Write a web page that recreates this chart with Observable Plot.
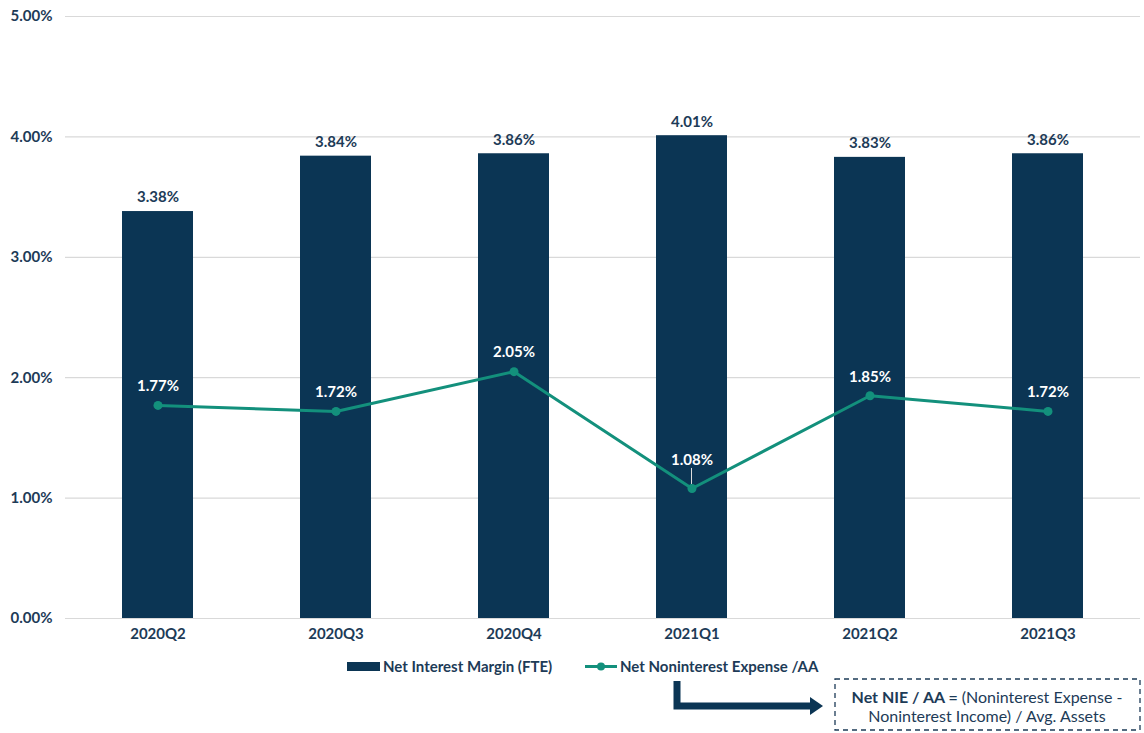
<!DOCTYPE html>
<html><head><meta charset="utf-8">
<script src="https://cdn.jsdelivr.net/npm/d3@7"></script>
<script src="https://cdn.jsdelivr.net/npm/@observablehq/plot@0.6"></script>
<style>
body{margin:0;background:#fff;font-family:Lato,"DejaVu Sans",sans-serif;}
#wrap{position:relative;width:1144px;height:733px;}
#chart{position:absolute;left:0;top:0;}
#extra{position:absolute;left:0;top:0;}
</style></head>
<body><div id="wrap"><div id="chart"></div><svg id="extra" width="1144" height="733"></svg></div>
<script>
const quarters = ["2020Q2","2020Q3","2020Q4","2021Q1","2021Q2","2021Q3"];
const nim = [3.38, 3.84, 3.86, 4.01, 3.83, 3.86];
const nie = [1.77, 1.72, 2.05, 1.08, 1.85, 1.72];
const yTicks = [0,1,2,3,4,5];
const seriesNames = ["Net Interest Margin (FTE)", "Net Noninterest Expense /AA"];

const navy = "#0b3554";
const teal = "#13907c";
const textNavy = "#1d3b57";
const fs = 15;

const rows = quarters.map((q,i)=>({q, nim:nim[i], nie:nie[i], lowLabel: nie[i] < 1.5}));
const lowRows = rows.filter(d=>d.lowLabel);

const plot = Plot.plot({
  width:1144, height:648,
  marginLeft:65, marginRight:4, marginTop:16, marginBottom:30,
  style:{fontFamily:"Lato, 'DejaVu Sans', sans-serif", background:"transparent"},
  x:{domain:quarters, paddingInner:0.6, paddingOuter:0.304, label:null, tickSize:0, tickPadding:10},
  y:{domain:[0,5], ticks:yTicks, label:null, tickSize:0, tickPadding:13, tickFormat:d=>d.toFixed(2)+"%"},
  marks:[
    Plot.gridY(yTicks, {stroke:"#d9d9d9", strokeOpacity:1, strokeWidth:1.2}),
    Plot.barY(rows, {x:"q", y:"nim", fill:navy}),
    Plot.text(rows, {x:"q", y:"nim", text:d=>d.nim.toFixed(2)+"%", dy:-14, fill:textNavy, fontWeight:"bold", fontSize:fs}),
    Plot.line(rows, {x:"q", y:"nie", stroke:teal, strokeWidth:3}),
    Plot.dot(rows, {x:"q", y:"nie", fill:teal, r:4.5}),
    Plot.text(rows.filter(d=>!d.lowLabel), {x:"q", y:"nie", text:d=>d.nie.toFixed(2)+"%", dy:-19, fill:"#ffffff", fontWeight:"bold", fontSize:fs}),
    Plot.text(lowRows, {x:"q", y:"nie", text:d=>d.nie.toFixed(2)+"%", dy:-28, fill:"#ffffff", fontWeight:"bold", fontSize:fs}),
    Plot.dot(lowRows, {x:"q", y:"nie", r:0,
      render:(index, scales)=>{
        const g = d3.create("svg:g");
        for (const i of index){
          const d = lowRows[i];
          const cx = scales.x(d.q) + scales.x.bandwidth()/2;
          const cy = scales.y(d.nie);
          g.append("line").attr("x1",cx).attr("x2",cx).attr("y1",cy-20).attr("y2",cy-4).attr("stroke","#dddddd").attr("stroke-width",1);
        }
        return g.node();
      }}),
    Plot.axisX({tickSize:0, tickPadding:10, fontSize:fs, fontWeight:"bold", fill:textNavy}),
    Plot.axisY({ticks:yTicks, tickSize:0, tickPadding:13, fontSize:fs, fontWeight:"bold", fill:textNavy, tickFormat:d=>d.toFixed(2)+"%"})
  ]
});
document.getElementById("chart").appendChild(plot);

// legend and annotation
const svg = d3.select("#extra");
const lf = "Lato, 'DejaVu Sans', sans-serif";
svg.append("rect").attr("x",347).attr("y",662).attr("width",33).attr("height",9).attr("fill",navy);
svg.append("text").attr("x",383).attr("y",672).attr("font-family",lf).attr("font-size",fs).attr("font-weight","bold").attr("fill",textNavy).text(seriesNames[0]);
svg.append("line").attr("x1",585).attr("x2",617).attr("y1",666.5).attr("y2",666.5).attr("stroke",teal).attr("stroke-width",3);
svg.append("circle").attr("cx",601).attr("cy",666.5).attr("r",4).attr("fill",teal);
svg.append("text").attr("x",620).attr("y",672).attr("font-family",lf).attr("font-size",fs).attr("font-weight","bold").attr("fill",textNavy).text(seriesNames[1]);

// elbow arrow
svg.append("path").attr("d","M677,681 L677,706 L812,706").attr("fill","none").attr("stroke",navy).attr("stroke-width",7);
svg.append("path").attr("d","M810,697 L823,706 L810,715 Z").attr("fill",navy);

// dashed box
svg.append("rect").attr("x",835).attr("y",679).attr("width",305).attr("height",51).attr("fill","none").attr("stroke",textNavy).attr("stroke-width",1.3).attr("stroke-dasharray","5,4");
const t1 = svg.append("text").attr("x",987).attr("y",703).attr("text-anchor","middle").attr("font-family",lf).attr("font-size",16).attr("fill",textNavy);
t1.append("tspan").attr("font-weight","bold").text("Net NIE / AA = ");
t1.append("tspan").text("(Noninterest Expense -");
svg.append("text").attr("x",987).attr("y",722).attr("text-anchor","middle").attr("font-family",lf).attr("font-size",16).attr("fill",textNavy).text("Noninterest Income) / Avg. Assets");
</script></body></html>
